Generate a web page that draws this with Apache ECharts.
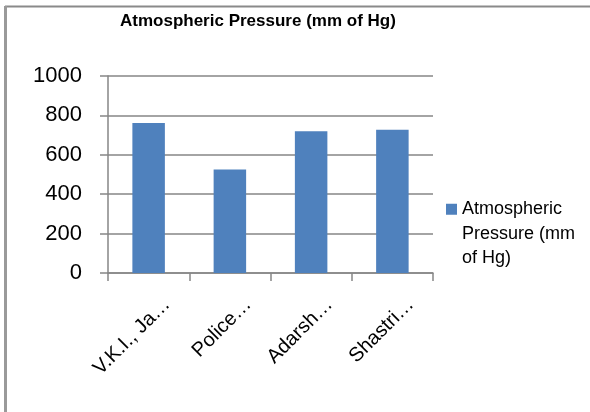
<!DOCTYPE html>
<html>
<head>
<meta charset="utf-8">
<script src="https://cdn.jsdelivr.net/npm/echarts@6/dist/echarts.min.js"></script>
<style>
  html, body { margin: 0; padding: 0; background: #ffffff; }
  #chart { width: 590px; height: 412px; }
</style>
</head>
<body>
<div id="chart"></div>
<script>
// Station names (as they appear, truncated) and their pressure readings
const categories = ['V.K.I., Ja\u2026', 'Police\u2026', 'Adarsh\u2026', 'Shastri\u2026'];
const pressure = [762, 526, 720, 727];
const seriesName = 'Atmospheric Pressure (mm of Hg)';
const legendLines = ['Atmospheric', 'Pressure (mm', 'of Hg)'];
const yTicks = { min: 0, max: 1000, interval: 200 };

const gridColor = '#868686';
const barColor = '#4f81bd';

const chart = echarts.init(document.getElementById('chart'), null, { renderer: 'canvas' });

chart.setOption({
  animation: false,
  backgroundColor: '#ffffff',
  title: {
    text: seriesName,
    left: 120,
    top: 13,
    padding: 0,
    textStyle: {
      fontFamily: '"Liberation Sans", sans-serif',
      fontWeight: 'bold',
      fontSize: 17,
      color: '#000000'
    }
  },
  legend: {
    left: 441,
    top: 143,
    itemWidth: 11,
    itemHeight: 11,
    icon: 'rect',
    // two empty lines on top keep the swatch level with the first text line
    formatter: function () { return '\n\n' + legendLines.join('\n'); },
    textStyle: {
      fontFamily: '"Liberation Sans", sans-serif',
      fontSize: 18,
      lineHeight: 24.5,
      color: '#000000'
    },
    data: [seriesName]
  },
  grid: {
    left: 108,
    right: 157,
    top: 76,
    bottom: 139,
    containLabel: false
  },
  xAxis: {
    type: 'category',
    data: categories,
    axisLine: { show: true, lineStyle: { color: gridColor, width: 1.5 } },
    axisTick: { show: true, alignWithLabel: false, length: 8, lineStyle: { color: gridColor, width: 1.5 } },
    axisLabel: {
      rotate: 45,
      margin: 10,
      interval: 0,
      verticalAlign: 'top',
      padding: [16, 0, 0, 0],
      fontFamily: '"Liberation Sans", sans-serif',
      fontSize: 20,
      color: '#000000'
    }
  },
  yAxis: {
    type: 'value',
    min: yTicks.min,
    max: yTicks.max,
    interval: yTicks.interval,
    axisLine: { show: true, lineStyle: { color: gridColor, width: 1.5 } },
    axisTick: { show: true, inside: false, length: 8, lineStyle: { color: gridColor, width: 1.5 } },
    splitLine: { show: true, lineStyle: { color: gridColor, width: 1.5 } },
    axisLabel: {
      margin: 26,
      formatter: function (v) { return String(v); },
      fontFamily: '"Liberation Sans", sans-serif',
      fontSize: 22,
      color: '#000000'
    }
  },
  series: [{
    name: seriesName,
    type: 'bar',
    data: pressure,
    barWidth: '40%',
    itemStyle: { color: barColor }
  }],
  graphic: [
    // chart frame: top and left edges
    { type: 'line', shape: { x1: 5, y1: 6.5, x2: 590, y2: 6.5 }, style: { stroke: '#8a8a8a', lineWidth: 2 } },
    { type: 'line', shape: { x1: 5.5, y1: 6, x2: 5.5, y2: 412 }, style: { stroke: '#9a9a9a', lineWidth: 3 } }
  ]
});
</script>
</body>
</html>
